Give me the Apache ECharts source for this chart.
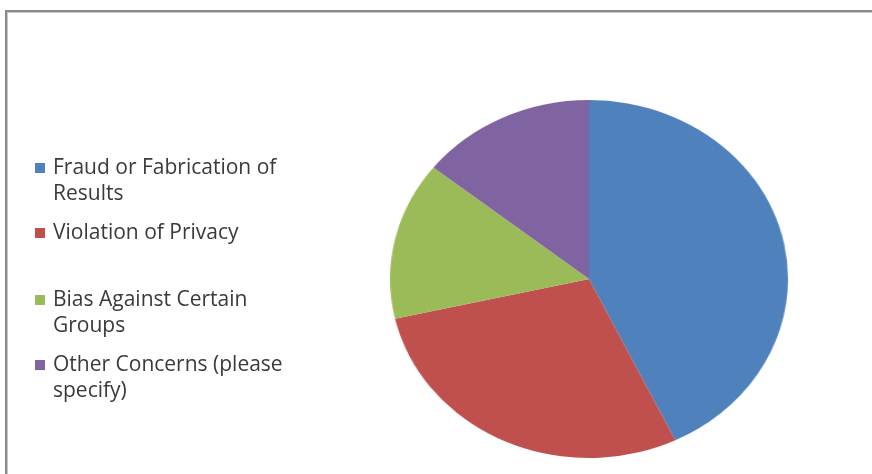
<!DOCTYPE html>
<html>
<head>
<meta charset="utf-8">
<script src="https://cdn.jsdelivr.net/npm/echarts@6/dist/echarts.min.js"></script>
<style>
html,body{margin:0;padding:0;background:#fff;}
#wrap{position:relative;width:872px;height:474px;overflow:hidden;background:#fff;}
#frame{position:absolute;left:5px;top:10px;width:880px;height:480px;border-left:2px solid #8a8a8a;border-top:2px solid #8a8a8a;box-shadow:inset 1px 1px 0 #c8c8c8;}
#pie{position:absolute;left:0;top:0;width:872px;height:474px;transform-origin:589px 279px;transform:scaleX(1.1117);}
#leg{position:absolute;left:0;top:0;width:872px;height:474px;}
</style>
</head>
<body>
<div id="wrap">
  <div id="frame"></div>
  <div id="pie"></div>
  <div id="leg"></div>
</div>
<script>
const categories = ["Fraud or Fabrication of Results", "Violation of Privacy", "Bias Against Certain Groups", "Other Concerns (please specify)"];
const values = [3, 2, 1, 1];
const legendLabels = ["Fraud or Fabrication of\nResults", "Violation of Privacy", "Bias Against Certain\nGroups", "Other Concerns (please\nspecify)"];
const colors = ["#4F81BD", "#C0504D", "#9BBB59", "#8064A2"];

const pieData = categories.map((c, i) => ({ name: c, value: values[i] }));

const pieChart = echarts.init(document.getElementById('pie'), null, { renderer: 'canvas' });
pieChart.setOption({
  animation: false,
  color: colors,
  series: [{
    type: 'pie',
    center: [589, 279],
    radius: 179,
    startAngle: 90,
    clockwise: true,
    silent: true,
    label: { show: false },
    labelLine: { show: false },
    itemStyle: { borderWidth: 0 },
    data: pieData
  }]
});

const legChart = echarts.init(document.getElementById('leg'), null, { renderer: 'canvas' });
const legendTops = [129, 220, 261, 326];
const legends = categories.map((c, i) => {
  const multi = legendLabels[i].indexOf('\n') >= 0;
  return {
    data: [c],
    left: 35,
    top: legendTops[i],
    padding: 0,
    orient: 'vertical',
    icon: 'rect',
    itemWidth: 10,
    itemHeight: 10,
    selectedMode: false,
    formatter: () => (multi ? '\n' : '') + legendLabels[i],
    textStyle: {
      fontFamily: 'Open Sans',
      fontSize: 21,
      color: '#3a3a3a',
      lineHeight: 26,
      padding: [0, 0, 0, 3]
    }
  };
});
legChart.setOption({
  animation: false,
  color: colors,
  legend: legends,
  series: [{
    type: 'pie',
    radius: 0,
    center: [-100, -100],
    silent: true,
    label: { show: false },
    data: pieData
  }]
});
</script>
</body>
</html>
